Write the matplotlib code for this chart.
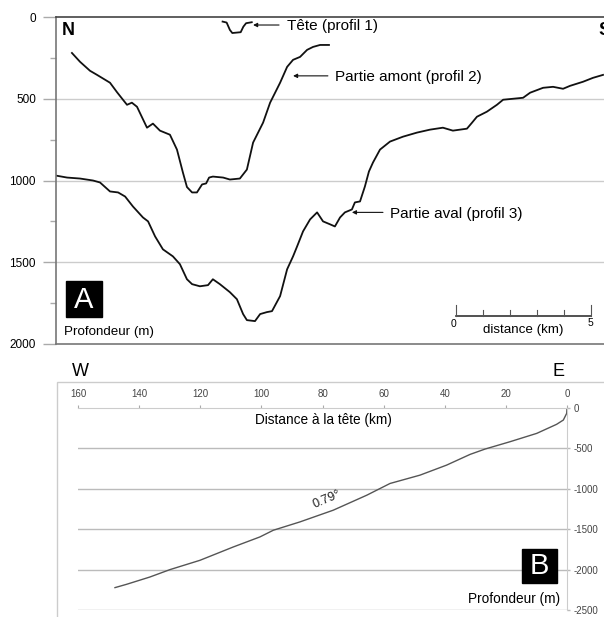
import matplotlib
matplotlib.use('Agg')
import matplotlib.pyplot as plt
from matplotlib.patches import Rectangle

plt.rcParams['font.family'] = ['Liberation Sans', 'DejaVu Sans']
plt.rcParams['axes.unicode_minus'] = False

# --- panneau A : profils transversaux (km, m de profondeur)
tete_km = [6.17, 6.32, 6.44, 6.53, 6.84, 6.94, 7.04, 7.25]
tete_m = [28, 34, 79, 98, 93, 59, 38, 32]

amont_km = [0.59, 0.89, 1.26, 1.52, 2.0, 2.26, 2.48, 2.63, 2.81, 3.0, 3.37, 3.59, 3.85,
            4.22, 4.48, 4.70, 4.85, 5.04, 5.22, 5.41, 5.56, 5.67, 5.81, 6.19, 6.44, 6.81,
            7.07, 7.30, 7.67, 7.93, 8.30, 8.56, 8.78, 9.04, 9.30, 9.52, 9.78, 10.11]
amont_m = [220, 274, 329, 354, 402, 460, 506, 537, 524, 549, 677, 652, 695,
           720, 811, 951, 1040, 1073, 1073, 1024, 1018, 982, 976, 982, 994, 988,
           933, 768, 646, 524, 402, 305, 262, 244, 201, 183, 171, 171]

aval_km = [0, 0.41, 0.89, 1.37, 1.63, 2.0, 2.30, 2.56, 2.85, 3.22, 3.41, 3.67, 3.96, 4.33,
           4.59, 4.85, 5.04, 5.33, 5.63, 5.81, 6.07, 6.44, 6.70, 6.93, 7.07, 7.37, 7.56,
           7.81, 8.0, 8.30, 8.56, 8.78, 8.93, 9.15, 9.41, 9.67, 9.89, 10.15, 10.33, 10.52,
           10.70, 10.96, 11.07, 11.26, 11.44, 11.59, 11.74, 12.0, 12.37, 12.85, 13.37,
           13.85, 14.33, 14.70, 15.22, 15.41, 15.59, 15.96, 16.33, 16.56, 16.93, 17.30,
           17.56, 18.04, 18.41, 18.78, 19.04, 19.52, 19.89, 20.26]
aval_m = [970, 982, 988, 1000, 1012, 1067, 1073, 1098, 1159, 1226, 1250, 1342, 1421, 1464,
          1512, 1604, 1634, 1647, 1640, 1604, 1634, 1683, 1726, 1817, 1854, 1860, 1817,
          1805, 1799, 1707, 1543, 1464, 1403, 1311, 1238, 1195, 1250, 1268, 1281, 1226,
          1195, 1177, 1134, 1128, 1037, 945, 890, 811, 762, 732, 707,
          689, 677, 695, 683, 646, 610, 579, 537, 506, 500, 494,
          463, 433, 427, 439, 421, 396, 372, 354]

# --- panneau B : profil longitudinal
dist_tete = [0, 0.1, 1.2, 3.4, 9.9, 18.7, 26.8, 31.7, 39.4, 48.1, 57.9, 65.5, 76.5,
             87.4, 96.1, 100.5, 109.2, 120.1, 129.9, 136.5, 144.1, 147.9]
prof_long = [0, -66, -149, -202, -314, -418, -508, -574, -707, -831, -934, -1079, -1265,
             -1410, -1513, -1596, -1720, -1885, -2000, -2092, -2182, -2223]

W, H = 604, 617
fig = plt.figure(figsize=(W / 100, H / 100), dpi=100)

def fx(px):
    return px / W

def fy(py):
    return 1 - py / H

# ---------------- A
axA = fig.add_axes([fx(56), fy(344), (612 - 56) / W, (344 - 17) / H])
axA.set_xlim(0, (612 - 56) / 27)
axA.set_ylim(2000, 0)
for y in [500, 1000, 1500]:
    axA.axhline(y, color='#cccccc', lw=1, zorder=0)
axA.plot(tete_km, tete_m, color='#111111', lw=1.3)
axA.plot(amont_km, amont_m, color='#111111', lw=1.3)
axA.plot(aval_km, aval_m, color='#111111', lw=1.3)

axA.set_yticks([0, 500, 1000, 1500, 2000])
axA.set_yticks([250, 750, 1250, 1750], minor=True)
axA.tick_params(axis='y', which='major', length=9.5, width=1, color='#aaaaaa',
                labelsize=8.5, pad=5)
axA.tick_params(axis='y', which='minor', length=4.5, width=1, color='#aaaaaa')
axA.set_xticks([])
axA.spines['left'].set_color('#777777')
axA.spines['top'].set_color('#444444')
axA.spines['bottom'].set_color('#777777')
axA.spines['right'].set_visible(False)
for s in ['left', 'top', 'bottom']:
    axA.spines[s].set_linewidth(1.2)

axA.text(0.22, 80, 'N', fontsize=13, fontweight='bold', va='center', ha='left')
axA.text(20.1, 80, 'S', fontsize=13, fontweight='bold', va='center', ha='left')

arrow = dict(arrowstyle='-|>', color='#111111', lw=0.8, mutation_scale=6,
             shrinkA=0, shrinkB=0)
axA.annotate('', xy=(7.30, 49), xytext=(8.26, 49), arrowprops=arrow)
axA.text(8.56, 55, 'Tête (profil 1)', fontsize=11, va='center', ha='left')
axA.annotate('', xy=(8.78, 360), xytext=(10.07, 360), arrowprops=arrow)
axA.text(10.33, 366, 'Partie amont (profil 2)', fontsize=11, va='center', ha='left')
axA.annotate('', xy=(10.96, 1195), xytext=(12.11, 1195), arrowprops=arrow)
axA.text(12.37, 1207, 'Partie aval (profil 3)', fontsize=11, va='center', ha='left')

# barre d'échelle
axA.plot([14.81, 19.81], [1829, 1829], color='#333333', lw=1.2)
for k in range(6):
    h = 65 if k in (0, 5) else 40
    axA.plot([14.81 + k, 14.81 + k], [1829, 1829 - h], color='#555555', lw=0.8)
axA.text(14.74, 1878, '0', fontsize=7.5, ha='center', va='center')
axA.text(19.81, 1870, '5', fontsize=7.5, ha='center', va='center')
axA.text(17.3, 1912, 'distance (km)', fontsize=9.6, ha='center', va='center')

axA.add_patch(Rectangle((0.37, 1616), 1.33, 219, color='black', zorder=3))
axA.text(1.035, 1730, 'A', color='white', fontsize=21, ha='center', va='center', zorder=4)
axA.text(0.30, 1927, 'Profondeur (m)', fontsize=9.6, ha='left', va='center')

# ---------------- B
fig.patches.append(Rectangle((fx(57), fy(660)), 0.95, (660 - 382) / H,
                             transform=fig.transFigure, fill=False,
                             edgecolor='#cccccc', lw=1))
axB = fig.add_axes([fx(78), fy(610), (567 - 78) / W, (610 - 408) / H])
axB.set_xlim(160, 0)
axB.set_ylim(-2500, 0)
for y in [-500, -1000, -1500, -2000, -2500]:
    axB.axhline(y, color='#bbbbbb', lw=1, zorder=0)
axB.plot(dist_tete, prof_long, color='#555555', lw=1)

axB.xaxis.tick_top()
axB.set_xticks(range(160, -1, -20))
axB.tick_params(axis='x', length=2.5, width=0.8, color='#aaaaaa', labelsize=7,
                labelcolor='#444444', pad=4)
axB.yaxis.tick_right()
axB.set_yticks(range(0, -2501, -500))
axB.tick_params(axis='y', length=2.5, width=1, color='#bbbbbb', labelsize=7,
                labelcolor='#444444', pad=2)
axB.spines['left'].set_visible(False)
axB.spines['bottom'].set_visible(False)
axB.spines['top'].set_color('#cccccc')
axB.spines['right'].set_color('#cccccc')

axB.text(102.1, -149, 'Distance à la tête (km)', fontsize=9.8, ha='left', va='center')
axB.text(78.5, -1130, '0.79°', fontsize=9, rotation=23, ha='center', va='center',
         color='#222222')
axB.add_patch(Rectangle((3.3, -2170), 11.4, 422, color='black', zorder=3))
axB.text(9.0, -1959, 'B', color='white', fontsize=21, ha='center', va='center', zorder=4)
axB.text(2.3, -2368, 'Profondeur (m)', fontsize=9.8, ha='right', va='center')

fig.text(fx(80), fy(371), 'W', fontsize=13, ha='center', va='center')
fig.text(fx(559), fy(371), 'E', fontsize=13, ha='center', va='center')

fig.savefig('out.png', dpi=100)
